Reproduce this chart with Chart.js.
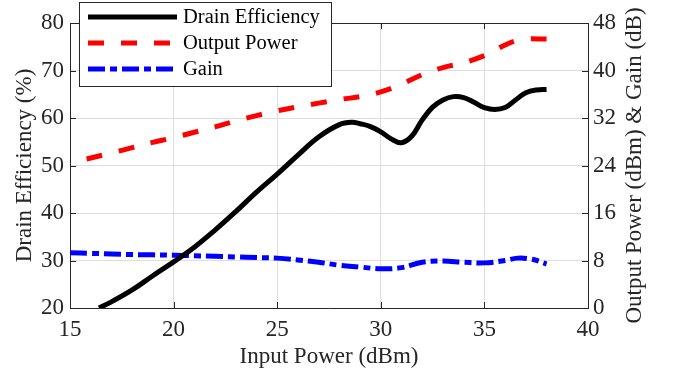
<!DOCTYPE html>
<html>
<head>
<meta charset="utf-8">
<script src="https://cdn.jsdelivr.net/npm/chart.js@4.4.0/dist/chart.umd.min.js"></script>
<style>
    html, body { margin: 0; padding: 0; background: #ffffff; }
</style>
</head>
<body>
<canvas id="grafica" width="673" height="374"></canvas>
<script>
const FUENTE = "'Liberation Serif', 'Times New Roman', serif";
const EJE = "#262626";

// Drain Efficiency (%) vs Input Power (dBm)
const pinEficiencia = [16.4, 17, 18, 19, 20, 21, 22, 23, 24, 25, 26, 27, 28, 28.6, 29, 29.5, 30, 30.5, 31, 31.5, 32, 32.5, 33, 33.5, 34, 34.5, 35, 35.5, 36, 36.5, 37, 37.5, 38];
const eficiencia = [20, 21.3, 23.8, 26.8, 29.7, 32.8, 36.4, 40.3, 44.4, 48.2, 52.2, 56.0, 58.6, 59.1, 58.8, 58.2, 57.1, 55.6, 54.8, 56.2, 59.6, 62.3, 63.8, 64.5, 64.3, 63.3, 62.2, 61.8, 62.2, 63.8, 65.3, 65.9, 66.0];

// Output Power (dBm)
const pinPotencia = [15.8, 17, 18, 19, 20, 21, 22, 23, 24, 25, 26, 27, 28, 29, 30, 31, 32, 33, 34, 35, 35.5, 36, 36.5, 37, 38];
const potenciaSalida = [25.1, 26.1, 27.0, 27.9, 28.7, 29.6, 30.5, 31.5, 32.4, 33.2, 33.9, 34.5, 35.1, 35.6, 36.4, 37.7, 39.3, 40.5, 41.3, 42.5, 43.4, 44.3, 45.0, 45.3, 45.3];

// Gain (dB)
const pinGanancia = [15, 16, 17, 18, 19, 20, 21, 22, 23, 24, 25, 26, 27, 28, 29, 30, 31, 32, 33, 34, 35, 36, 36.6, 37.3, 38];
const ganancia = [9.3, 9.2, 9.1, 9.0, 8.95, 8.9, 8.8, 8.7, 8.6, 8.5, 8.4, 8.1, 7.7, 7.2, 6.9, 6.6, 6.8, 7.7, 7.9, 7.7, 7.6, 8.0, 8.4, 8.2, 7.4];

// Ticks
const ticksX = [15, 20, 25, 30, 35, 40];
const ticksEficiencia = [20, 30, 40, 50, 60, 70, 80];
const ticksPotencia = [0, 8, 16, 24, 32, 40, 48];

function puntos(xs, ys) {
    return xs.map((x, i) => ({ x: x, y: ys[i] }));
}

function fijarTicks(valores) {
    return (scale) => {
        scale.ticks = valores.map((v) => ({ value: v }));
    };
}

// marco superior, ticks hacia dentro, titulo derecho y leyenda
const marcoPlugin = {
    id: "marco",
    afterDraw(chart) {
        const ctx = chart.ctx;
        const a = chart.chartArea;
        const sx = chart.scales.x;
        const sy = chart.scales.y;
        const sy1 = chart.scales.y1;
        const largo = 6;

        ctx.save();
        ctx.strokeStyle = EJE;
        ctx.lineWidth = 1;
        ctx.beginPath();
        ctx.moveTo(a.left, Math.round(a.top) + 0.5);
        ctx.lineTo(a.right, Math.round(a.top) + 0.5);
        ticksX.forEach((v) => {
            const px = Math.round(sx.getPixelForValue(v)) + 0.5;
            ctx.moveTo(px, a.bottom);
            ctx.lineTo(px, a.bottom - largo);
            ctx.moveTo(px, a.top);
            ctx.lineTo(px, a.top + largo);
        });
        ticksEficiencia.forEach((v) => {
            const py = Math.round(sy.getPixelForValue(v)) + 0.5;
            ctx.moveTo(a.left, py);
            ctx.lineTo(a.left + largo, py);
        });
        ticksPotencia.forEach((v) => {
            const py = Math.round(sy1.getPixelForValue(v)) + 0.5;
            ctx.moveTo(a.right, py);
            ctx.lineTo(a.right - largo, py);
        });
        ctx.stroke();
        ctx.restore();

        // titulo del eje derecho (se lee de abajo hacia arriba)
        ctx.save();
        ctx.translate(a.right + 47, (a.top + a.bottom) / 2);
        ctx.rotate(-Math.PI / 2);
        ctx.font = "23px " + FUENTE;
        ctx.fillStyle = EJE;
        ctx.textAlign = "center";
        ctx.textBaseline = "middle";
        ctx.fillText("Output Power (dBm) & Gain (dB)", 0, 0);
        ctx.restore();

        // leyenda
        const bx = a.left + 9, by = 2, bw = 252, bh = 84;
        ctx.save();
        ctx.fillStyle = "#ffffff";
        ctx.fillRect(bx, by, bw, bh);
        ctx.strokeStyle = EJE;
        ctx.lineWidth = 1;
        ctx.strokeRect(bx + 0.5, by + 0.5, bw, bh);
        ctx.font = "20.5px " + FUENTE;
        ctx.textBaseline = "middle";
        chart.data.datasets.forEach((ds, i) => {
            const fy = by + 15 + i * 26;
            ctx.beginPath();
            ctx.strokeStyle = ds.borderColor;
            ctx.lineWidth = ds.borderWidth;
            ctx.setLineDash(ds.borderDash || []);
            ctx.moveTo(bx + 9, fy);
            ctx.lineTo(bx + 98, fy);
            ctx.stroke();
            ctx.setLineDash([]);
            ctx.fillStyle = "#000000";
            ctx.fillText(ds.label, bx + 104, fy + 1);
        });
        ctx.restore();
    },
};

const ctxGrafica = document.getElementById("grafica").getContext("2d");

const grafica = new Chart(ctxGrafica, {
    type: "line",
    data: {
        datasets: [
            {
                label: "Drain Efficiency",
                data: puntos(pinEficiencia, eficiencia),
                yAxisID: "y",
                borderColor: "#000000",
                borderWidth: 5,
                pointRadius: 0,
                tension: 0.4,
            },
            {
                label: "Output Power",
                data: puntos(pinPotencia, potenciaSalida),
                yAxisID: "y1",
                borderColor: "#ff0000",
                borderWidth: 5,
                borderDash: [16, 17],
                pointRadius: 0,
                tension: 0.4,
            },
            {
                label: "Gain",
                data: puntos(pinGanancia, ganancia),
                yAxisID: "y1",
                borderColor: "#0000ff",
                borderWidth: 5,
                borderDash: [17, 5, 7, 5],
                pointRadius: 0,
                tension: 0.4,
            },
        ],
    },
    options: {
        responsive: false,
        animation: false,
        devicePixelRatio: 1,
        layout: {
            padding: { top: 23, left: 0, right: 0, bottom: 0 },
        },
        plugins: {
            legend: { display: false },
            tooltip: { enabled: false },
        },
        scales: {
            x: {
                type: "linear",
                min: 15,
                max: 40,
                afterBuildTicks: fijarTicks(ticksX),
                afterFit: (scale) => { scale.height = 66; },
                grid: { color: "#dedede", drawTicks: false },
                border: { color: EJE, width: 1 },
                ticks: {
                    font: { family: FUENTE, size: 23 },
                    color: EJE,
                    padding: 8,
                    maxRotation: 0,
                },
                title: {
                    display: true,
                    text: "Input Power (dBm)",
                    font: { family: FUENTE, size: 23 },
                    color: EJE,
                    padding: { top: 0, bottom: 3 },
                },
            },
            y: {
                type: "linear",
                position: "left",
                min: 20,
                max: 80,
                afterBuildTicks: fijarTicks(ticksEficiencia),
                afterFit: (scale) => { scale.width = 70; },
                grid: { color: "#dedede", drawTicks: false },
                border: { color: EJE, width: 1 },
                ticks: {
                    font: { family: FUENTE, size: 23 },
                    color: EJE,
                    padding: 6,
                },
                title: {
                    display: true,
                    text: "Drain Efficiency (%)",
                    font: { family: FUENTE, size: 23 },
                    color: EJE,
                    padding: { top: 11, bottom: 0 },
                },
            },
            y1: {
                type: "linear",
                position: "right",
                min: 0,
                max: 48,
                afterBuildTicks: fijarTicks(ticksPotencia),
                afterFit: (scale) => { scale.width = 85; },
                grid: { display: false, drawTicks: false },
                border: { color: EJE, width: 1 },
                ticks: {
                    font: { family: FUENTE, size: 23 },
                    color: EJE,
                    padding: 5,
                },
            },
        },
    },
    plugins: [marcoPlugin],
});
</script>
</body>
</html>
